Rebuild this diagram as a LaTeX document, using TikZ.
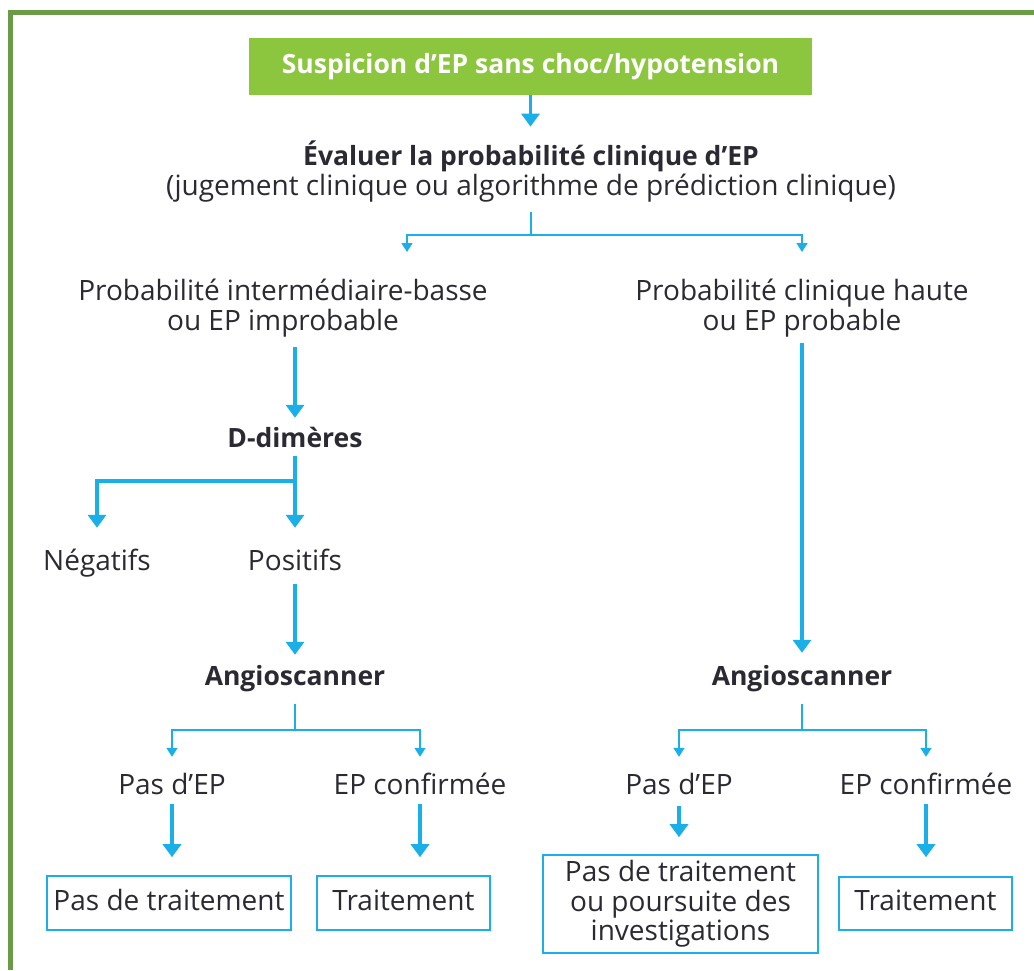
\documentclass[tikz,border=0pt]{standalone}
\usepackage{fontspec}
\setmainfont{Open Sans}
\usetikzlibrary{arrows.meta}
\definecolor{frame}{HTML}{6B9A49}
\definecolor{leaf}{HTML}{8CC63F}
\definecolor{flow}{HTML}{1AAFE8}
\definecolor{ink}{HTML}{2A2A33}
\newcommand{\regsize}{\fontsize{28}{29.5}\selectfont}
\newcommand{\boldsize}{\fontsize{26.5}{29.5}\selectfont\bfseries}
\begin{document}
\begin{tikzpicture}[x=1pt,y=-1pt,
  txt/.style={inner sep=0pt, text=ink, font=\regsize, align=center},
  one/.style={txt, anchor=base, text height=17pt, text depth=5pt},
  head/.style={one, font=\boldsize},
  fat/.style={draw=flow, line width=3.5pt, -{Triangle[width=18pt,length=13pt]}},
  slim/.style={draw=flow, line width=1.5pt},
  slimarrow/.style={slim, -{Triangle[width=11pt,length=9pt]}},
  result/.style={txt, draw=flow, line width=1.6pt, minimum height=54pt},
  single/.style={result, text depth=6pt}
]
\useasboundingbox (0,0) rectangle (1034,970);
\fill[white] (0,0) rectangle (1034,970);
% outer frame (open to the right and bottom)
\draw[frame, line width=5pt] (1034,12) -- (10.5,12) -- (10.5,970);

% nodes (multi-line nodes sit on the baseline of their last line)
\node[fill=leaf, minimum width=563pt, minimum height=57pt, inner sep=0pt,
      text=white, font=\boldsize] (start) at (530.5,66.5)
      {Suspicion d’EP sans choc/hypotension};
\node[txt, anchor=base] (eval) at (531,195)
      {{\boldsize Évaluer la probabilité clinique d’EP}\\(jugement clinique ou algorithme de prédiction clinique)};
\node[txt, anchor=base] (low) at (283,330) {Probabilité intermédiaire-basse\\ou EP improbable};
\node[txt, anchor=base] (high) at (802,330) {Probabilité clinique haute\\ou EP probable};
\node[head] (ddim) at (295,447) {D-dimères};
\node[one] (neg) at (97,570) {Négatifs};
\node[one] (pos) at (295,570) {Positifs};
\node[head] (angL) at (295,685) {Angioscanner};
\node[head] (angR) at (802,685) {Angioscanner};
\node[one] (pdL) at (172,794) {Pas d’EP};
\node[one] (ecL) at (420,794) {EP confirmée};
\node[one] (pdR) at (679,794) {Pas d’EP};
\node[one] (ecR) at (926,794) {EP confirmée};
\node[single, minimum width=244pt] (ptL) at (169,903) {Pas de traitement};
\node[single, minimum width=173pt] (trL) at (403.5,903) {Traitement};
\node[result, minimum width=275pt, minimum height=98pt] (ptR) at (680.5,904)
      {Pas de traitement\\ou poursuite des\\investigations};
\node[single, minimum width=173pt, minimum height=53pt] (trR) at (925.5,903.5) {Traitement};

% branching points
\coordinate (fork1) at (531,235);
\coordinate (lowin) at (407,252);
\coordinate (highin) at (802,252);
\coordinate (fork2) at (295,481);
\coordinate (fork3) at (295,730);
\coordinate (fork4) at (802,730);

% connectors
\draw[fat, shorten >=14pt] (start.south) -- (start.south |- eval.north);
\draw[slim, shorten <=10pt] (eval.south) -- (fork1);
\draw[slimarrow] (fork1) -| (lowin);
\draw[slimarrow] (fork1) -| (highin);

\draw[fat, shorten <=10pt, shorten >=12pt] (low.south -| ddim.north) -- (ddim.north);
\draw[fat, shorten <=4pt, shorten >=25pt] (ddim.south) -- (pos.north);
\draw[fat, shorten >=25pt] (fork2) -| (neg.north);
\draw[fat, shorten <=9pt, shorten >=13pt] (pos.south) -- (angL.north);
\draw[fat, shorten <=6pt, shorten >=15pt] (high.south) -- (angR.north);

\draw[slim, shorten <=14pt] (angL.south) -- (fork3);
\draw[slimarrow, shorten >=20pt] (fork3) -| (pdL.north);
\draw[slimarrow, shorten >=20pt] (fork3) -| (ecL.north);
\draw[slim, shorten <=14pt] (angR.south) -- (fork4);
\draw[slimarrow, shorten >=20pt] (fork4) -| (pdR.north);
\draw[slimarrow, shorten >=20pt] (fork4) -| (ecR.north);

\draw[fat, shorten <=5pt, shorten >=18pt] (pdL.south) -- (pdL.south |- ptL.north);
\draw[fat, shorten <=5pt, shorten >=18pt] (ecL.south) -- (ecL.south |- trL.north);
\draw[fat, shorten <=7pt, shorten >=17pt] (pdR.south) -- (pdR.south |- ptR.north);
\draw[fat, shorten <=5pt, shorten >=19pt] (ecR.south) -- (ecR.south |- trR.north);
\end{tikzpicture}
\end{document}
